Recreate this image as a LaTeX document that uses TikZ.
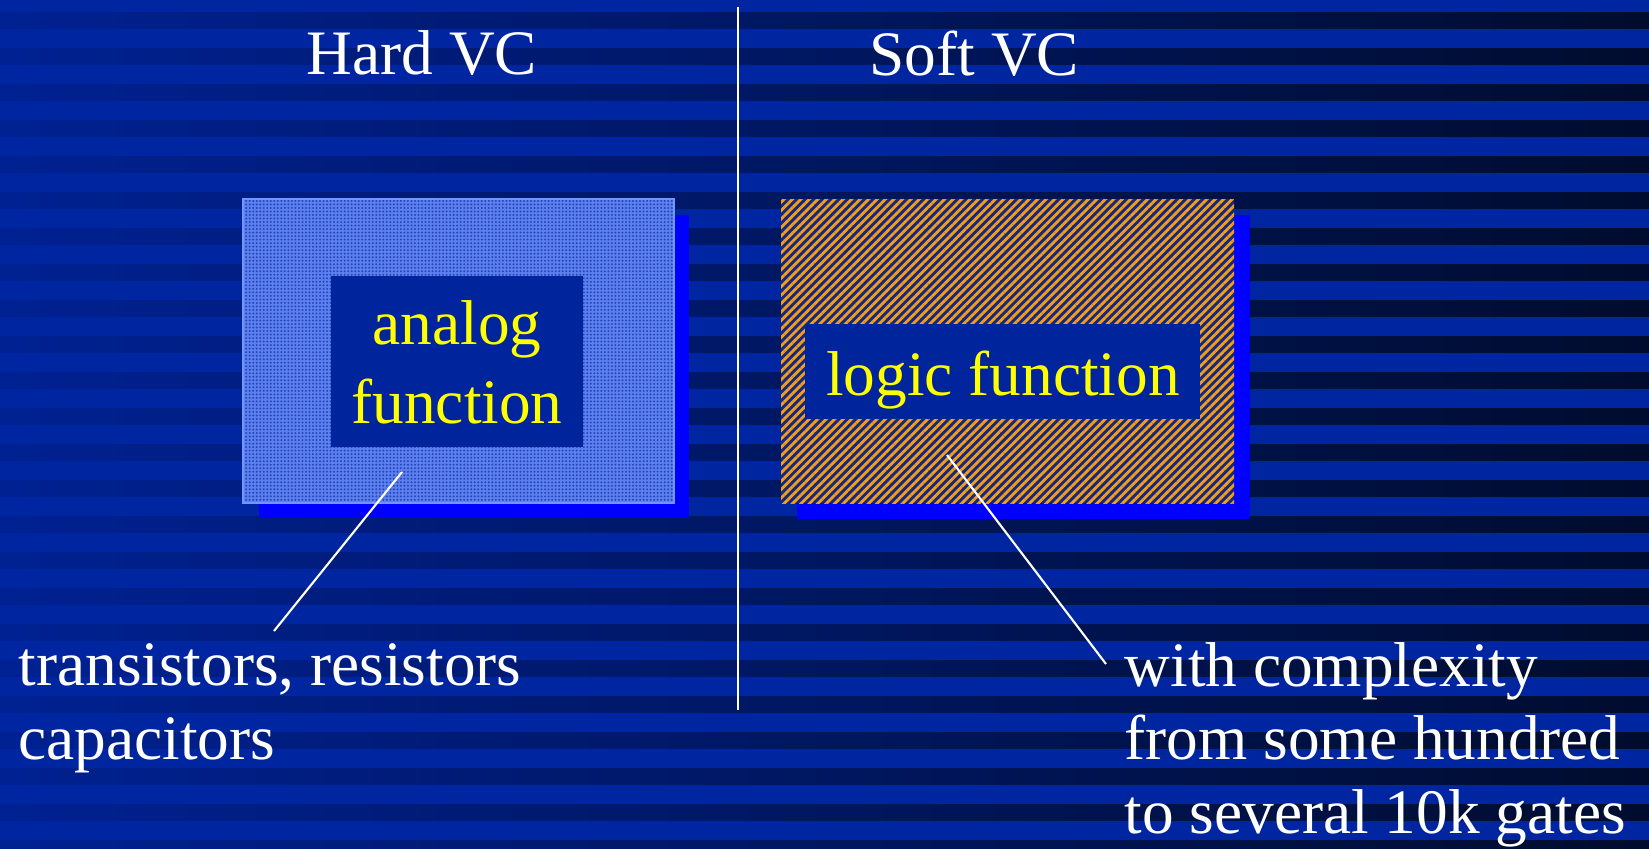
\documentclass[tikz,border=0pt]{standalone}
\usepackage{fontspec}
\setmainfont{Liberation Serif}
\usetikzlibrary{patterns.meta}
\definecolor{bglight}{RGB}{0,37,160}
\definecolor{bgdarkl}{RGB}{0,33,146}
\definecolor{bgdarkr}{RGB}{0,12,46}
\definecolor{shadowblue}{RGB}{0,0,255}
\definecolor{hardfill}{RGB}{92,128,238}
\definecolor{harddot}{RGB}{40,70,190}
\definecolor{hardedge}{RGB}{112,150,255}
\definecolor{innerblue}{RGB}{0,36,155}
\definecolor{softbase}{RGB}{22,40,125}
\definecolor{softline}{RGB}{240,158,28}
\definecolor{labelyellow}{RGB}{255,255,0}
\tikzset{
  heading/.style={anchor=base west,inner sep=0pt,text=white,font=\fontsize{18}{22}\selectfont},
  inlabel/.style={anchor=base,inner sep=0pt,text=labelyellow,align=center,font=\fontsize{18}{22.2}\selectfont},
  notelabel/.style={anchor=base west,inner sep=0pt,text=white,align=left,font=\fontsize{18}{20.9}\selectfont},
  leader/.style={white,line width=.6pt},
}
\begin{document}
\begin{tikzpicture}[x=0.01cm,y=-0.01cm]
\useasboundingbox (0,0) rectangle (1649,848);
\clip (0,0) rectangle (1649,848);
% striped background
\fill[bglight] (0,0) rectangle (1649,848);
\foreach \k in {0,...,23}
  \shade[left color=bgdarkl,right color=bgdarkr] (0,12+36*\k) rectangle (1649,28+36*\k);
\draw[white,line width=.75pt] (738,7) -- (738,710);
% hard VC block
\fill[shadowblue] (259,215) rectangle (689,518);
\fill[hardfill] (243,199) rectangle (674,503);
\fill[pattern={Dots[distance=1pt,radius=.32pt]},pattern color=harddot] (243,199) rectangle (674,503);
\draw[hardedge,line width=.5pt] (243,199) rectangle (674,503);
\fill[innerblue] (331,276) rectangle (583,447);
% soft VC block
\fill[shadowblue] (797,215) rectangle (1250,519);
\fill[softbase] (781,199) rectangle (1234,503);
\fill[pattern={Lines[angle=45,distance=1.7pt,line width=.8pt]},pattern color=softline] (781,199) rectangle (1234,503);
\fill[innerblue] (805,324) rectangle (1200,419);
% texts (multi-line nodes sit on their last baseline)
\node[heading] (hardtitle) at (306,74) {Hard VC};
\node[heading] (softtitle) at (869,75) {Soft VC};
\node[inlabel] (analog) at (457,423) {analog\\function};
\node[inlabel] (logic) at (1003,395) {logic function};
\node[notelabel] (parts) at (18,759) {transistors, resistors\\capacitors};
\node[notelabel] (gates) at (1124,833) {with complexity\\from some hundred\\to several 10k gates};
% leaders
\coordinate (hardtip) at (402,472);
\coordinate (hardend) at (274,631);
\coordinate (softtip) at (947,455);
\coordinate (softend) at (1106,664);
\draw[leader] (hardtip) -- (hardend);
\draw[leader] (softtip) -- (softend);
\end{tikzpicture}
\end{document}
